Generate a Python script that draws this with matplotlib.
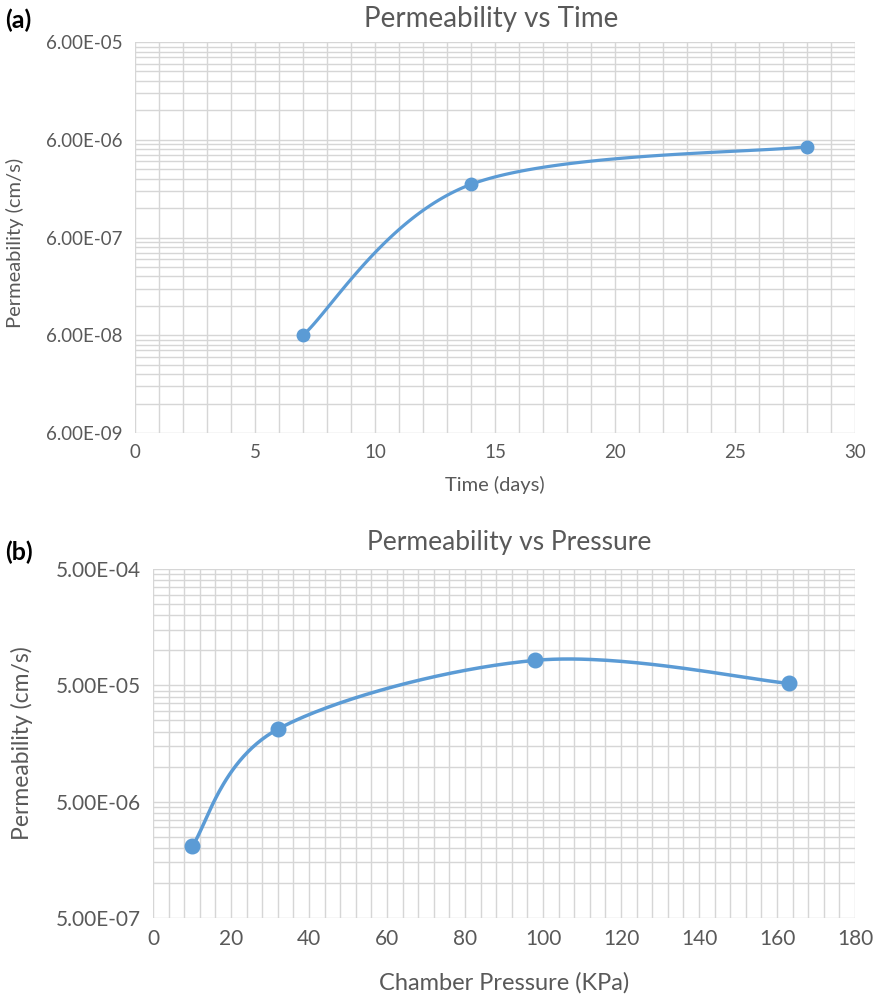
import numpy as np
import matplotlib
matplotlib.use("Agg")
import matplotlib.pyplot as plt
from matplotlib.ticker import FixedLocator, FuncFormatter

# data
time_days = [7, 14, 28]
perm_time = [6.0e-8, 2.1e-6, 5.1e-6]

pressure_kpa = [10, 32, 98, 163]
perm_pressure = [2.06e-6, 2.1e-5, 8.2e-5, 5.2e-5]

BLUE = "#5B9BD5"
GRID = "#D6D6D6"
TEXT = "#595959"

plt.rcParams["font.family"] = ["Lato", "DejaVu Sans"]


# Excel style smoothed line (bezier through the points, done in screen space)
def smooth_curve(ax, xs, ys):
    fig = ax.figure
    fig.canvas.draw()
    pts = ax.transData.transform(np.column_stack([xs, ys]))
    n = len(pts)
    out = []
    for i in range(n - 1):
        p0 = pts[max(i - 1, 0)]
        p1 = pts[i]
        p2 = pts[i + 1]
        p3 = pts[min(i + 2, n - 1)]
        c1 = p1 + (p2 - p0) / 6.0
        c2 = p2 - (p3 - p1) / 6.0
        t = np.linspace(0, 1, 60)[:, None]
        seg = ((1 - t) ** 3) * p1 + 3 * ((1 - t) ** 2) * t * c1 \
            + 3 * (1 - t) * t ** 2 * c2 + t ** 3 * p2
        out.append(seg)
    out = np.vstack(out)
    data = ax.transData.inverted().transform(out)
    return data[:, 0], data[:, 1]


def setup_axes(ax, x_max, x_major, x_minor, y_base, decades, tick_size):
    ax.set_yscale("log")
    ax.set_xlim(0, x_max)
    ax.set_ylim(y_base, y_base * 10 ** decades)
    majors = [y_base * 10 ** k for k in range(decades + 1)]
    minors = [y_base * 10 ** k * m for k in range(decades) for m in range(2, 10)]
    ax.yaxis.set_major_locator(FixedLocator(majors))
    ax.yaxis.set_minor_locator(FixedLocator(minors))
    ax.yaxis.set_major_formatter(FuncFormatter(lambda v, p: "%.2E" % v))
    ax.yaxis.set_minor_formatter(FuncFormatter(lambda v, p: ""))
    ax.set_xticks(np.arange(0, x_max + 0.1, x_major))
    ax.set_xticks(np.arange(0, x_max + 0.1, x_minor), minor=True)
    ax.grid(True, which="both", color=GRID, linewidth=1.0)
    ax.set_axisbelow(True)
    for s in ax.spines.values():
        s.set_visible(False)
    ax.tick_params(which="both", length=0, colors=TEXT, labelsize=tick_size)
    ax.tick_params(axis="y", pad=9)
    ax.tick_params(axis="x", pad=8)


fig = plt.figure(figsize=(8.77, 9.99), dpi=100)

# (a) permeability vs time
ax1 = fig.add_axes([0.154, 0.5666, 0.821, 0.3913])
setup_axes(ax1, 30, 5, 1, 6e-9, 4, 13.5)
ax1.set_title("Permeability vs Time", color=TEXT, fontsize=20, x=0.494, y=1.0384,
              va="baseline", pad=0)
ax1.set_xlabel("Time (days)", color=TEXT, fontsize=14.5, va="center")
ax1.xaxis.set_label_coords(0.5, -0.133)
ax1.set_ylabel("Permeability (cm/s)", color=TEXT, fontsize=14.5, va="center")
ax1.yaxis.set_label_coords(-0.167, 0.486)
sx, sy = smooth_curve(ax1, time_days, perm_time)
ax1.plot(sx, sy, color=BLUE, linewidth=2.3, solid_capstyle="round")
ax1.plot(time_days, perm_time, "o", color=BLUE, markersize=9)
fig.text(0.006, 0.980, "(a)", fontsize=18, fontweight="bold", color="black", va="center")

# (b) permeability vs pressure
ax2 = fig.add_axes([0.1745, 0.0811, 0.8005, 0.3493])
setup_axes(ax2, 180, 20, 4, 5e-7, 3, 15)
ax2.set_title("Permeability vs Pressure", color=TEXT, fontsize=19, x=0.508, y=1.0544,
              va="baseline", pad=0)
ax2.set_xlabel("Chamber Pressure (KPa)", color=TEXT, fontsize=17, va="center")
ax2.xaxis.set_label_coords(0.5, -0.186)
ax2.set_ylabel("Permeability (cm/s)", color=TEXT, fontsize=16.5, va="center")
ax2.yaxis.set_label_coords(-0.187, 0.50)
sx, sy = smooth_curve(ax2, pressure_kpa, perm_pressure)
ax2.plot(sx, sy, color=BLUE, linewidth=2.5, solid_capstyle="round")
ax2.plot(pressure_kpa, perm_pressure, "o", color=BLUE, markersize=10.5)
fig.text(0.006, 0.447, "(b)", fontsize=18, fontweight="bold", color="black", va="center")

fig.savefig("out.png", dpi=100)
